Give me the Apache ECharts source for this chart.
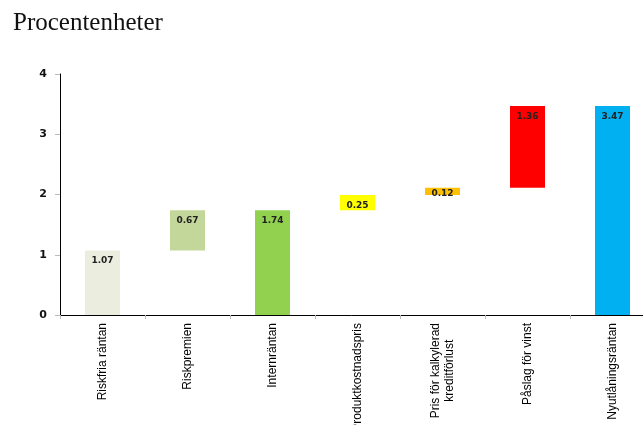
<!DOCTYPE html>
<html><head><meta charset="utf-8">
<script src="https://cdn.jsdelivr.net/npm/echarts@6/dist/echarts.min.js"></script>
<style>html,body{margin:0;padding:0;background:#fff}#c{width:643px;height:425px}</style>
</head><body><div id="c"></div>
<script>
const categories = ['Riskfria räntan', 'Riskpremien', 'Internräntan', 'Produktkostnadspris', 'Pris för kalkylerad\nkreditförlust', 'Påslag för vinst', 'Nyutlåningsräntan'];
const values = [1.07, 0.67, 1.74, 0.25, 0.12, 1.36, 3.47];
const bases = [0, 1.07, 0, 1.74, 1.99, 2.11, 0];
const yTicks = [0, 1, 2, 3, 4];
const barColors = ['#EBEEDF', '#C4D79B', '#92D050', '#FFFF00', '#FFC000', '#FF0000', '#00B0F0'];

const chart = echarts.init(document.getElementById('c'), null, {renderer: 'canvas'});
chart.setOption({
  animation: false,
  title: {text: 'Procentenheter', left: 8, top: 6, textStyle: {fontFamily: 'Liberation Serif', fontWeight: 'normal', fontSize: 25, color: '#111'}},
  grid: {left: 60, top: 74, width: 595, height: 241, containLabel: false, outerBoundsMode: 'none'},
  xAxis: {
    type: 'category', data: categories,
    axisLine: {lineStyle: {color: '#000', width: 1}},
    axisTick: {show: true, length: 4, lineStyle: {color: '#bbb'}},
    axisLabel: {
      rotate: 90, margin: 8, color: '#000', fontSize: 12, fontFamily: 'Liberation Sans',
      formatter: v => v.split('\n').map(s => '{a|' + s + '}').join('\n'),
      rich: {a: {align: 'center', fontSize: 12, fontFamily: 'Liberation Sans', color: '#000', lineHeight: 14}}
    }
  },
  yAxis: {
    type: 'value', min: yTicks[0], max: yTicks[yTicks.length - 1], interval: 1,
    splitLine: {show: false},
    axisLine: {show: true, lineStyle: {color: '#000', width: 1}},
    axisTick: {show: true, length: 5, lineStyle: {color: '#bbb'}},
    axisLabel: {margin: 13, color: '#111', fontSize: 11, fontWeight: 'bold', fontFamily: 'DejaVu Sans'}
  },
  series: [
    {type: 'bar', stack: 'w', barWidth: 35, data: bases, itemStyle: {color: 'transparent'}, silent: true},
    {type: 'bar', stack: 'w', barWidth: 35,
      data: values.map((v, i) => ({
        value: v,
        itemStyle: {color: barColors[i]},
        label: {distance: v < 0.2 ? 1 : 6}
      })),
      label: {show: true, position: 'insideTop', distance: 6, fontSize: 9, fontWeight: 'bold', fontFamily: 'DejaVu Sans', color: '#222',
        formatter: p => p.value.toFixed(2)}
    }
  ]
});
</script></body></html>
